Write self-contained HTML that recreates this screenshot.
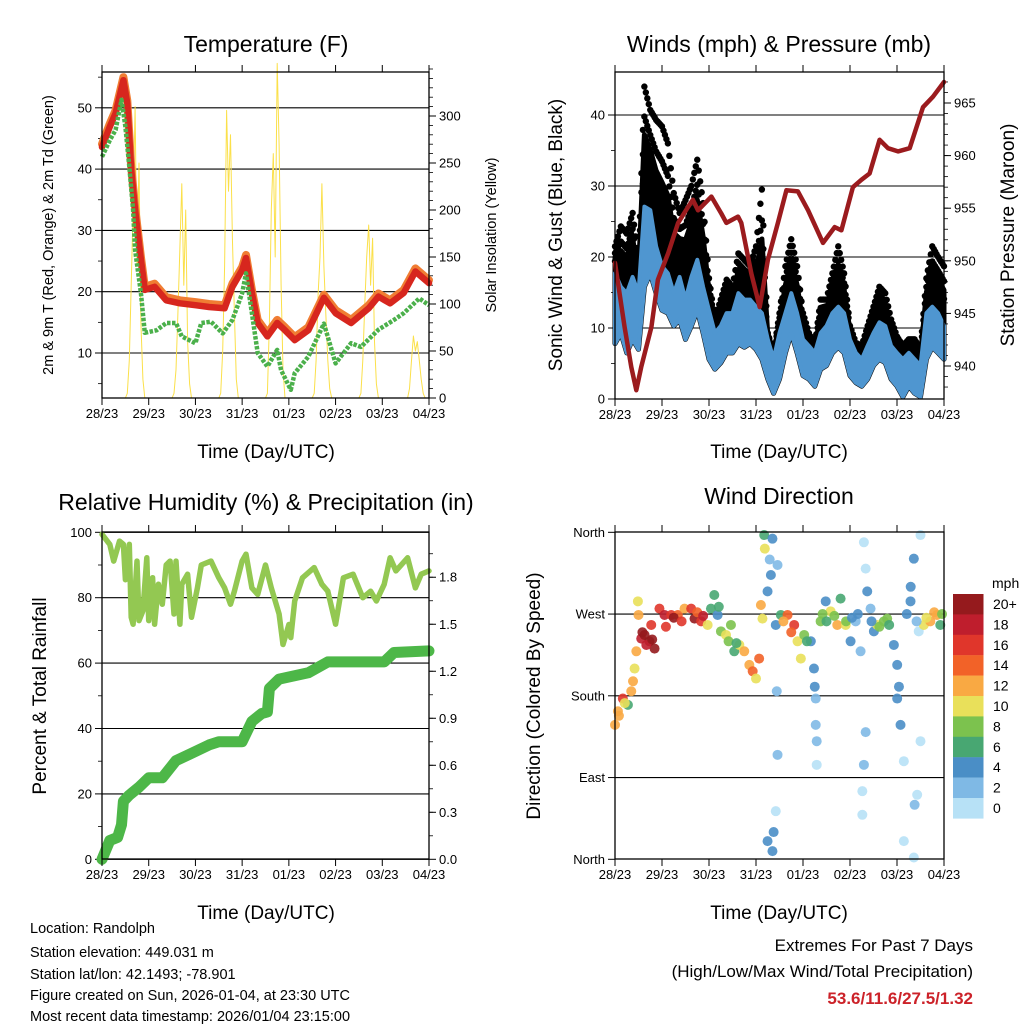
<!DOCTYPE html>
<html><head><meta charset="utf-8"><style>
body{margin:0;background:#fff}
svg{display:block;font-family:"Liberation Sans",sans-serif}
</style></head><body>
<svg id="chart" width="1024" height="1024" viewBox="0 0 1024 1024">
<rect width="1024" height="1024" fill="#fff"/>
<g id="texts" font-family="Liberation Sans, sans-serif" fill="#000">
<text x="266" y="52" font-size="23" text-anchor="middle">Temperature (F)</text>
<text x="779" y="52" font-size="23" text-anchor="middle">Winds (mph) &amp; Pressure (mb)</text>
<text x="266" y="510" font-size="23" text-anchor="middle">Relative Humidity (%) &amp; Precipitation (in)</text>
<text x="779" y="504" font-size="23" text-anchor="middle">Wind Direction</text>
<text x="266" y="458" font-size="19" text-anchor="middle">Time (Day/UTC)</text>
<text x="779" y="458" font-size="19" text-anchor="middle">Time (Day/UTC)</text>
<text x="266" y="919" font-size="19" text-anchor="middle">Time (Day/UTC)</text>
<text x="779" y="919" font-size="19" text-anchor="middle">Time (Day/UTC)</text>
<text transform="translate(53,235) rotate(-90)" font-size="14.5" text-anchor="middle">2m &amp; 9m T (Red, Orange) &amp; 2m Td (Green)</text>
<text transform="translate(496,235) rotate(-90)" font-size="14.5" text-anchor="middle">Solar Insolation (Yellow)</text>
<text transform="translate(562,235) rotate(-90)" font-size="19" text-anchor="middle">Sonic Wind &amp; Gust (Blue, Black)</text>
<text transform="translate(1014,235) rotate(-90)" font-size="19" text-anchor="middle">Station Pressure (Maroon)</text>
<text transform="translate(46,696) rotate(-90)" font-size="19" text-anchor="middle">Percent &amp; Total Rainfall</text>
<text transform="translate(540,696) rotate(-90)" font-size="19" text-anchor="middle">Direction (Colored By Speed)</text>
<g font-size="14.5">
<text x="30" y="933">Location: Randolph</text>
<text x="30" y="957">Station elevation: 449.031 m</text>
<text x="30" y="979">Station lat/lon: 42.1493; -78.901</text>
<text x="30" y="1000">Figure created on Sun, 2026-01-04, at 23:30 UTC</text>
<text x="30" y="1021">Most recent data timestamp: 2026/01/04 23:15:00</text>
</g>
<text x="973" y="951" font-size="17" text-anchor="end">Extremes For Past 7 Days</text>
<text x="973" y="977" font-size="17" text-anchor="end">(High/Low/Max Wind/Total Precipitation)</text>
<text x="973" y="1004" font-size="17" font-weight="bold" fill="#cc2229" text-anchor="end">53.6/11.6/27.5/1.32</text>
<text x="992" y="588" font-size="14">mph</text>
</g>
</svg>
<script>
const dayLabels=["28/23","29/23","30/23","31/23","01/23","02/23","03/23","04/23"];
// Temperature (F)
const tempHours=[0,4,7,11,13,15,17,20,22,27,33,40,48,55,63,67,72,74,77,80,85,90,94,99,106,114,120,128,137,142,148,155,161,168];
const tempValues=[43.6,46.9,49.1,54.5,50.7,39.9,33.3,25.2,20.3,20.8,18.6,18.1,17.8,17.5,17.3,20.8,23.5,25.5,19.8,14.9,12.7,14.9,13.7,12.1,13.7,19.0,16.5,14.9,17.3,19.2,18.1,19.8,23.3,21.4];
const dewHours=[0,4,7,10,12,14,16,17,20,22,28,33,38,41,48,51,56,62,67,72,74,77,80,85,90,92,97,99,106,114,120,128,133,142,150,155,163,168];
const dewValues=[42.0,44.7,46.4,51.3,46.9,40.4,33.3,26.8,19.8,13.3,13.7,14.9,14.9,12.7,11.6,14.9,15.1,13.2,15.4,19.7,23.0,16.5,10.0,7.8,10.5,7.2,4.0,6.7,9.4,14.8,8.3,11.6,11.0,13.8,15.4,16.5,18.9,17.8];
const solarValues=[
0,0,0,0,0,0,0,0,0,0,0,0,0,5,40,120,200,310,140,250,80,20,0,0,
0,0,0,0,0,0,0,0,0,0,0,0,0,5,30,90,160,228,120,200,60,15,0,0,
0,0,0,0,0,0,0,0,0,0,0,0,0,5,50,140,306,220,280,170,90,20,0,0,
0,0,0,0,0,0,0,0,0,0,0,0,0,5,80,200,260,150,356,270,120,30,0,0,
0,0,0,0,0,0,0,0,0,0,0,0,0,5,40,110,150,228,140,90,40,10,0,0,
0,0,0,0,0,0,0,0,0,0,0,0,0,5,40,100,150,184,120,170,60,15,0,0,
0,0,0,0,0,0,0,0,0,0,0,0,0,0,10,40,66,50,60,40,20,5,0,0,0];
// Winds (3-hourly)
const windHigh=[17.7,15.8,14.9,17.2,14.9,27.1,26.6,21.5,18.7,17.7,14.9,17.2,14,17.2,19.6,15.8,12.5,9.3,10.3,12.1,12.1,14.9,14,14,13,12.1,8.4,5.6,9.3,12.1,14.9,12.1,8.4,7.5,6.5,9.3,10.3,12.1,13,12.1,8.4,6.5,5.6,7.5,9.3,10.8,10.3,7.5,6.5,5.6,6.5,5.6,4.7,12.1,13,12.1,10.3];
const windLow=[7.8,9.3,6.5,8.4,7.0,15.8,17.7,14.9,12.5,12.1,10.3,11.2,8.4,10.3,12.5,9.3,5.6,4.2,5.1,6.5,6.5,7.8,7.3,7.8,7,5.6,2.8,0.8,2.8,6.5,9.3,6.5,3.3,2.8,1.8,4.2,4.7,6.5,7.3,6.5,3.3,2.3,1.8,2.8,4.7,5.6,5.1,2.8,1.8,0.3,1.8,0.8,0.3,5.6,7.3,6.5,5.6];
const gustHigh=[21.5,24.3,23.3,26.2,19.6,44,40.7,39.3,38.4,36,29,26.2,28,30,33.7,27.6,17,11.2,14,16.8,15.8,20.5,19.6,18.7,21.5,29.5,9.3,6.5,12.1,18.7,22.5,18.7,12.1,9.3,7.5,14,14,17.7,21.5,17.7,10.3,7.9,7.5,10.3,13,15.8,14.9,11.2,8.8,7.5,8.4,8.4,7,17,21.5,20,18.7];
const pressHours=[0,4.9,8.3,10.9,13.4,16,18.6,21.9,27.1,32.2,37.3,39.8,42.4,49.2,54.3,56.9,62.8,64.5,69.6,73.9,78.1,83.2,87.5,93.4,98.6,106.2,112.2,115.6,121.5,125.8,130,135.1,139.4,144.5,150.5,157.3,162.4,168];
const pressValues=[949.8,943.7,939.9,937.7,939.9,941.8,943.7,948.2,950.7,953.6,955.1,955.8,954.8,956.1,954.5,953.6,954.2,953.6,948.8,945.6,950.1,953.6,956.7,956.6,954.8,951.7,953.2,952.9,957.0,957.7,958.3,961.5,960.7,960.4,960.7,964.6,965.6,967.0];
// Relative humidity & precipitation
const rhHours=[0,4,6,9,11,12,14,15,16,18,19,21,23,24,26,27,29,31,33,35,37,38,40,41,44,46,49,51,56,60,63,66,68,72,74,77,80,84,87,91,93,96,97,99,103,109,113,116,120,124,129,134,138,141,145,148,151,157,161,164,168];
const rhValues=[99.4,96.3,91.2,97.3,96.3,85.5,96.3,74,71.9,91.2,73,76,92.2,73,86.1,71.9,84.1,78,90,91.2,75,91.2,71.9,84.1,87.2,74,83,90,91.2,86.1,83,78,82,91.2,93.3,83,81,90,83,75,65.7,71.8,67.8,79,86.1,89.2,84.1,82,71.9,86.1,87.2,80,82,79,84.1,92.2,88.2,92.2,83,87.2,88.2];
const rainHours=[0,4,8,10,11,14,19,24,31,38,45,55,60,72,77,82,85,86,91,106,116,145,150,168];
const rainValues=[0,0.12,0.14,0.22,0.37,0.41,0.46,0.52,0.52,0.63,0.67,0.73,0.75,0.75,0.88,0.93,0.94,1.09,1.15,1.19,1.26,1.26,1.32,1.33];
// Wind direction
const dirHours=[0,1.5,4,6.6,8.3,9.2,10,10.9,11.7,12,13.4,15.1,17.6,18.5,20.2,22.7,25.3,28.7,32.1,35.5,38.9,40.6,44,47.3,49,50.7,52.4,54.1,56.7,59.2,60.9,63.5,66,68.6,70.3,72,73.6,74.5,75.3,76.2,76.5,77.9,79.6,80.4,82.1,83,82.6,83,82.1,77.9,80.4,84.7,88.1,91.5,93.2,94.9,96.6,100,101.6,102.5,102.5,103,105,107.6,110.1,113.5,115.2,117.8,120.3,122.9,125.4,127.1,128,128.8,127.1,126.3,126.3,130.5,132.2,133.9,137.3,139,142.4,144.1,144.1,145.8,147.5,147.5,150.9,152.6,155.1,156,156,154.3,152.6,157.7,161,164.4,166.1,
26,30,34,42,45,14,16,19,53,58,62,86,90,98,106,108,112,118,121,124,131,135,140,149,151,154,159,163,167,2,5,102,103,79,81,128,145,153];
const dirDegrees=[148,163,177,170,185,196,210,229,284,269,243,247,240,258,232,276,269,269,269,276,276,265,262,258,276,291,269,251,247,258,229,236,229,214,207,199,221,280,265,357,342,295,313,353,258,324,185,115,53,20,9,269,269,258,240,221,247,240,210,177,148,104,262,284,273,258,287,258,240,262,229,349,320,295,104,75,49,276,251,258,262,265,236,214,177,148,108,20,284,331,251,357,130,71,2,258,262,269,258,
256,266,262,272,268,250,236,242,278,240,238,262,250,240,270,262,268,262,266,270,262,256,258,270,300,262,266,272,270,158,172,190,130,330,30,140,190,60];
const dirSpeeds=[12,12,16,6,12,12,10,12,10,12,18,20,20,16,20,16,18,16,14,12,16,20,16,10,6,6,4,8,10,8,6,10,12,12,14,10,14,12,10,6,10,4,4,4,4,2,2,2,0,4,4,6,14,16,10,10,8,4,4,2,2,0,8,4,10,12,6,10,4,2,2,0,0,4,2,0,0,2,4,10,8,8,4,4,4,4,0,0,4,4,0,0,0,0,0,10,12,12,6,
16,20,16,14,18,20,18,20,6,8,6,12,14,6,8,6,8,8,4,4,4,8,6,4,4,2,10,12,8,12,10,4,2,2,4,2,4,2];
const speedLevels=["20+","18","16","14","12","10","8","6","4","2","0"];
const speedColors=["#951a1d","#bf1e2d","#e0362b","#f26228","#f9a943","#e9e05a","#7cc24e","#48a772","#4a8ec6","#7fb9e5","#b7e1f6"];

const NS="http://www.w3.org/2000/svg";
const svg=document.getElementById('chart');
function mk(tag,parent){const e=document.createElementNS(NS,tag);parent.appendChild(e);return e;}
function att(e,o){for(const k in o)e.setAttribute(k,o[k]);return e;}
function pts(xs,ys,fx,fy){return xs.map((h,i)=>fx(h).toFixed(1)+","+fy(ys[i]).toFixed(1)).join(" ");}

function makePanel(name,x0,x1,y0,y1){
  const g=mk('g',svg);
  
  
  return {g,x0,x1,y0,y1,xOf:h=>x0+h/168*(x1-x0)};
}
function frame(P,prefix){
  const r=mk('rect',P.g);att(r,{x:P.x0,y:P.y0,width:P.x1-P.x0,height:P.y1-P.y0,fill:'none',stroke:'#000','stroke-width':1.3});
  
  
  for(let d=0;d<=7;d++){
    const x=P.xOf(d*24);
    const t1=mk('line',P.g);att(t1,{x1:x,x2:x,y1:P.y1,y2:P.y1+7,stroke:'#000','stroke-width':1});
    
    
    const t2=mk('line',P.g);att(t2,{x1:x,x2:x,y1:P.y0,y2:P.y0-7,stroke:'#000','stroke-width':1});
    
    
    const l=mk('text',P.g);att(l,{x:x,y:P.y1+20,'font-size':13,'text-anchor':'middle'});l.textContent=dayLabels[d];
    
    
  }
}
function leftAxis(P,prefix,fy,majors,minors,labels,grid){
  majors.forEach((v,i)=>{
    const y=fy(v);
    if(grid){const gl=mk('line',P.g);att(gl,{x1:P.x0,x2:P.x1,y1:y,y2:y,stroke:'#000','stroke-width':1.1});
      
      }
    const t=mk('line',P.g);att(t,{x1:P.x0-7,x2:P.x0,y1:y,y2:y,stroke:'#000'});
    
    
    const l=mk('text',P.g);att(l,{x:P.x0-10,y:y+4.5,'font-size':13,'text-anchor':'end'});l.textContent=labels[i];
    
    
  });
  minors.forEach(v=>{const y=fy(v);const t=mk('line',P.g);att(t,{x1:P.x0-4,x2:P.x0,y1:y,y2:y,stroke:'#000','stroke-width':0.8});
    
    });
}
function rightAxis(P,prefix,fy,majors,minors,labels){
  majors.forEach((v,i)=>{
    const y=fy(v);
    const t=mk('line',P.g);att(t,{x1:P.x1,x2:P.x1+7,y1:y,y2:y,stroke:'#000'});
    
    
    const l=mk('text',P.g);att(l,{x:P.x1+10,y:y+4.5,'font-size':13});l.textContent=labels[i];
    
    
  });
  minors.forEach(v=>{const y=fy(v);const t=mk('line',P.g);att(t,{x1:P.x1,x2:P.x1+4,y1:y,y2:y,stroke:'#000','stroke-width':0.8});
    
    });
}
function range(a,b,s){const r=[];for(let v=a;v<=b+1e-9;v+=s)r.push(+v.toFixed(3));return r;}

// ---- Temperature panel
const T=makePanel('temperature-panel',102,429,72,398);
const yT=v=>414.3-6.13*v, yS=s=>398-0.94*s;
leftAxis(T,'temp',yT,[10,20,30,40,50],[5,15,25,35,45,55],["10","20","30","40","50"],true);
rightAxis(T,'solar',yS,range(0,300,50),range(10,350,10),range(0,300,50).map(String));
const solarHours=solarValues.map((v,i)=>i);
const sol=mk('polyline',T.g);att(sol,{points:pts(solarHours,solarValues,T.xOf,yS),fill:'none',stroke:'#fbe04a','stroke-width':1,'stroke-linejoin':'round'});


const t9=mk('polyline',T.g);att(t9,{points:pts(tempHours,tempValues.map(v=>v+0.5),T.xOf,yT),fill:'none',stroke:'#f07d33','stroke-width':8,'stroke-linejoin':'round','stroke-linecap':'round'});


const t2=mk('polyline',T.g);att(t2,{points:pts(tempHours,tempValues,T.xOf,yT),fill:'none',stroke:'#d7261e','stroke-width':6.5,'stroke-linejoin':'round','stroke-linecap':'round'});


const td=mk('polyline',T.g);att(td,{points:pts(dewHours,dewValues,T.xOf,yT),fill:'none',stroke:'#4bb04b','stroke-width':4.5,'stroke-dasharray':'3.5 1.5','stroke-linejoin':'round'});


frame(T,'temp');

// ---- Wind panel
const W=makePanel('wind-panel',615,944,72,399);
const yW=v=>399-7.1*v, yP=p=>366-10.52*(p-940);
leftAxis(W,'wind',yW,[0,10,20,30,40],[5,15,25,35],["0","10","20","30","40"],true);
rightAxis(W,'pressure',yP,range(940,965,5),range(938,967,1),range(940,965,5).map(String));
const windHours=windHigh.map((v,i)=>i*3);
const gustMid=gustHigh.map((g,i)=>windHigh[i]+(g-windHigh[i])*0.6);
const gustPoly=mk('polygon',W.g);
att(gustPoly,{points:pts(windHours,gustMid,W.xOf,yW)+" "+pts(windHours.slice().reverse(),windLow.slice().reverse(),W.xOf,yW),fill:'#000',stroke:'#000','stroke-width':5,'stroke-linejoin':'round'});


for(let i=0;i<gustHigh.length;i++){
  const n=i<gustHigh.length-1?4:1;
  for(let k=0;k<n;k++){
    const f=k/4;
    const j=Math.min(i+1,gustHigh.length-1);
    const h=windHours[i]+(windHours[j]-windHours[i])*f;
    const g=gustHigh[i]+(gustHigh[j]-gustHigh[i])*f;
    const w=windHigh[i]+(windHigh[j]-windHigh[i])*f;
    [0.45,0.75,1].forEach(fr=>{
      const c=mk('circle',W.g);att(c,{cx:W.xOf(h),cy:yW(w+(g-w)*fr),r:3.2,fill:'#000'});
      
      
    });
  }
}
const windPoly=mk('polygon',W.g);
att(windPoly,{points:pts(windHours,windHigh,W.xOf,yW)+" "+pts(windHours.slice().reverse(),windLow.slice().reverse(),W.xOf,yW),fill:'#4f96d0',stroke:'#4f96d0','stroke-width':4,'stroke-linejoin':'round'});


const pr=mk('polyline',W.g);att(pr,{points:pts(pressHours,pressValues,W.xOf,yP),fill:'none',stroke:'#9b1b1e','stroke-width':4.5,'stroke-linejoin':'round','stroke-linecap':'round'});


frame(W,'wind');

// ---- RH panel
const R=makePanel('humidity-panel',102,429,532,859);
const yR=v=>859.3-3.27*v, yPr=i=>859.3-156.7*i;
leftAxis(R,'rh',yR,[0,20,40,60,80,100],[10,30,50,70,90],["0","20","40","60","80","100"],true);
rightAxis(R,'rain',yPr,range(0,1.8,0.3),range(0.15,2.05,0.15),range(0,1.8,0.3).map(v=>v.toFixed(1)));
const rhL=mk('polyline',R.g);att(rhL,{points:pts(rhHours,rhValues,R.xOf,yR),fill:'none',stroke:'#93c852','stroke-width':5.5,'stroke-linejoin':'round','stroke-linecap':'round'});


const rn=mk('polyline',R.g);att(rn,{points:pts(rainHours,rainValues,R.xOf,yPr),fill:'none',stroke:'#4db748','stroke-width':11,'stroke-linejoin':'round','stroke-linecap':'round'});


frame(R,'rh');

// ---- Direction panel
const D=makePanel('direction-panel',615,944,532,859);
const yD=d=>859.3-0.9083*d;
leftAxis(D,'dir',yD,[0,90,180,270,360],[],["North","East","South","West","North"],false);
[90,180,270].forEach(v=>{const gl=mk('line',D.g);att(gl,{x1:D.x0,x2:D.x1,y1:yD(v),y2:yD(v),stroke:'#000','stroke-width':1.1});
  
  });
function colorFor(s){let idx=10-Math.min(10,Math.floor(s/2));return speedColors[idx];}
dirHours.forEach((h,i)=>{
  const c=mk('circle',D.g);att(c,{cx:D.xOf(h),cy:yD(dirDegrees[i]),r:5,fill:colorFor(dirSpeeds[i]),'fill-opacity':0.9});
  
  
});
frame(D,'dir');

// ---- Colorbar
const cb=mk('g',svg);


speedLevels.forEach((lab,i)=>{
  const y=594+i*20.4;
  const r=mk('rect',cb);att(r,{x:953,y:y,width:30.5,height:20.6,fill:speedColors[i]});
  
  
  const t=mk('text',cb);att(t,{x:993,y:y+15,'font-size':14});t.textContent=lab;
  
  
});
</script>
</body></html>
